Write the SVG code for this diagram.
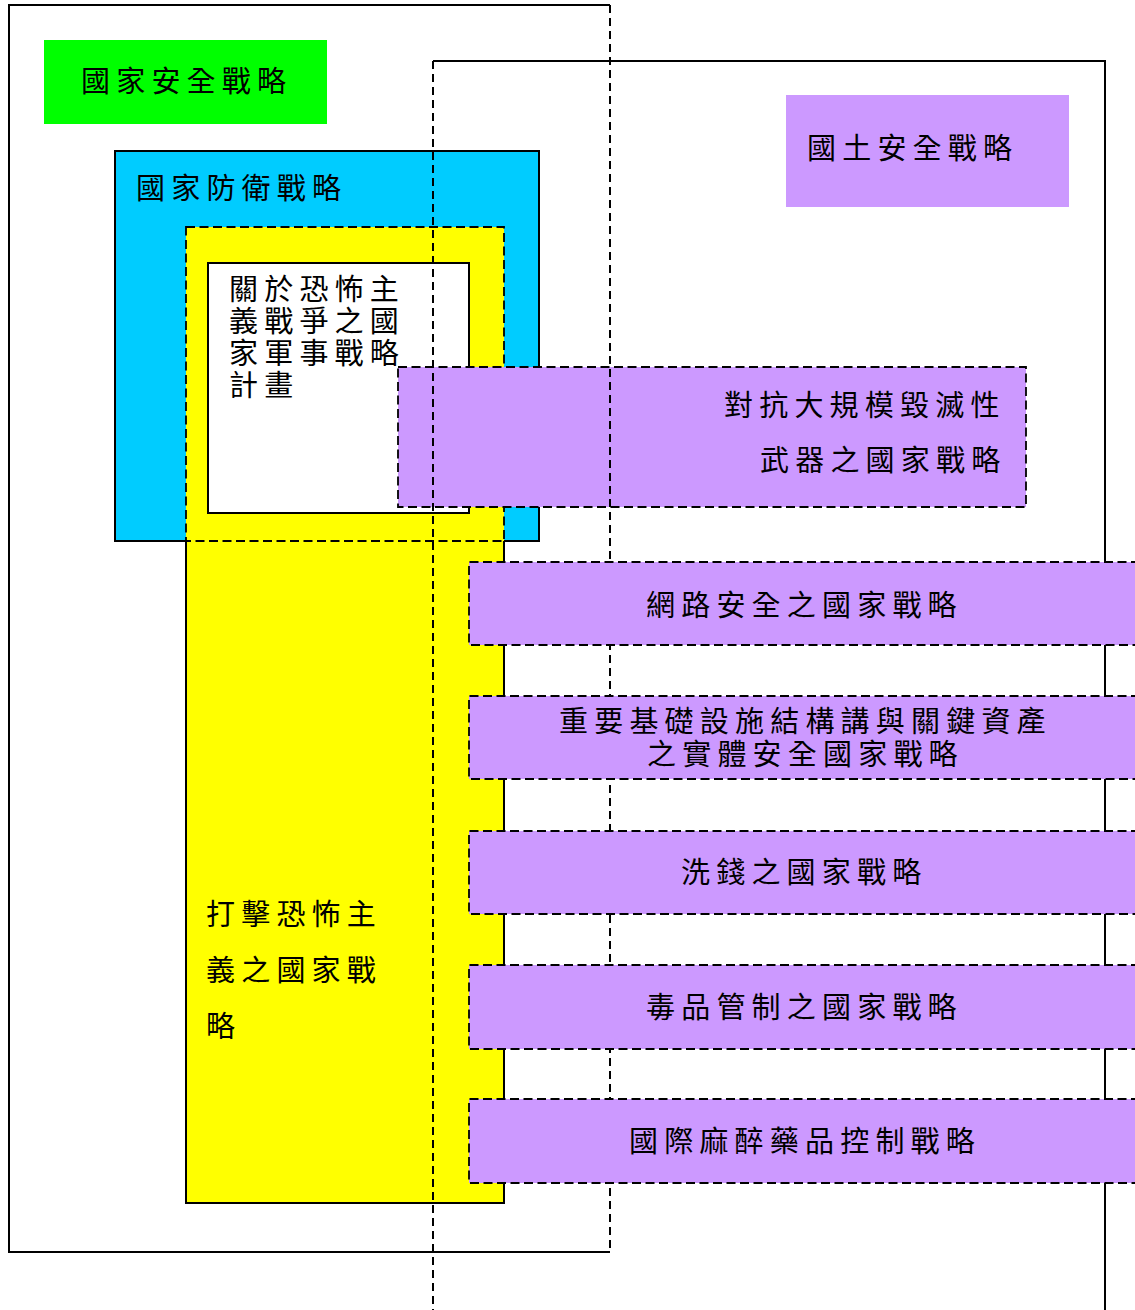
<svg xmlns="http://www.w3.org/2000/svg" width="1135" height="1310" viewBox="0 0 1135 1310">
<style>
.t{font-family:"Noto Sans CJK TC","Noto Sans CJK SC",sans-serif;font-size:29px;letter-spacing:6.2px;fill:#000}
.solid{fill:none;stroke:#000;stroke-width:2}
.dash{fill:none;stroke:#000;stroke-width:2;stroke-dasharray:8 5}
.bdash{stroke:#000;stroke-width:1.8;stroke-dasharray:9 4.5}
.purple{fill:#CC99FF}
</style>
<rect x="0" y="0" width="1135" height="1310" fill="#fff"/>
<g id="national-security-frame">
<path class="solid" d="M610,5 H9 V1252 H610"/>
</g>
<g id="homeland-security-frame">
<path class="solid" d="M433,61 H1105 V1310"/>
</g>
<g id="national-security-strategy">
<rect x="44" y="40" width="283" height="84" fill="#00FF00"/>
<text class="t" x="81" y="92">國家安全戰略</text>
</g>
<g id="homeland-security-strategy">
<rect x="786" y="95" width="283" height="112" class="purple"/>
<text class="t" x="807" y="159">國土安全戰略</text>
</g>
<g id="national-defense-strategy">
<rect x="115" y="151" width="424" height="390" fill="#00CCFF" stroke="#000" stroke-width="2"/>
<text class="t" x="136" y="199">國家防衛戰略</text>
</g>
<g id="combating-terrorism-strategy">
<rect x="186" y="227" width="318" height="976" fill="#FFFF00"/>
<path class="solid" d="M186,541 V1203 H504 V541"/>
<rect x="186" y="227" width="318" height="314" fill="none" class="bdash"/>
<text class="t" x="206" y="925">打擊恐怖主</text>
<text class="t" x="206" y="981">義之國家戰</text>
<text class="t" x="206" y="1037">略</text>
</g>
<g id="military-strategic-plan">
<rect x="208" y="263" width="261" height="250" fill="#fff" stroke="#000" stroke-width="2"/>
<text class="t" x="229" y="300">關於恐怖主</text>
<text class="t" x="229" y="332">義戰爭之國</text>
<text class="t" x="229" y="364">家軍事戰略</text>
<text class="t" x="229" y="396">計畫</text>
</g>
<g id="wmd-strategy">
<rect x="398" y="367" width="628" height="140" class="purple bdash"/>
<text class="t" x="724" y="416">對抗大規模毀滅性</text>
<text class="t" x="760" y="471">武器之國家戰略</text>
</g>
<g id="frame-dashed-edges">
<line class="dash" x1="610" y1="5" x2="610" y2="1252"/>
<line class="dash" x1="433" y1="61" x2="433" y2="1310"/>
</g>
<g id="cyber-strategy">
<path class="purple" d="M469,562 H1140 V645 H469 Z"/>
<path class="bdash" fill="none" d="M1140,562 H469 V645 H1140"/>
<text class="t" x="646" y="616">網路安全之國家戰略</text>
</g>
<g id="infrastructure-strategy">
<path class="purple" d="M469,696 H1140 V779 H469 Z"/>
<path class="bdash" fill="none" d="M1140,696 H469 V779 H1140"/>
<text class="t" x="559" y="732">重要基礎設施結構講與關鍵資產</text>
<text class="t" x="647" y="765">之實體安全國家戰略</text>
</g>
<g id="money-laundering-strategy">
<path class="purple" d="M469,831 H1140 V914 H469 Z"/>
<path class="bdash" fill="none" d="M1140,831 H469 V914 H1140"/>
<text class="t" x="681" y="883">洗錢之國家戰略</text>
</g>
<g id="drug-control-strategy">
<path class="purple" d="M469,965 H1140 V1049 H469 Z"/>
<path class="bdash" fill="none" d="M1140,965 H469 V1049 H1140"/>
<text class="t" x="646" y="1018">毒品管制之國家戰略</text>
</g>
<g id="narcotics-control-strategy">
<path class="purple" d="M469,1099 H1140 V1183 H469 Z"/>
<path class="bdash" fill="none" d="M1140,1099 H469 V1183 H1140"/>
<text class="t" x="629" y="1152">國際麻醉藥品控制戰略</text>
</g>
</svg>
